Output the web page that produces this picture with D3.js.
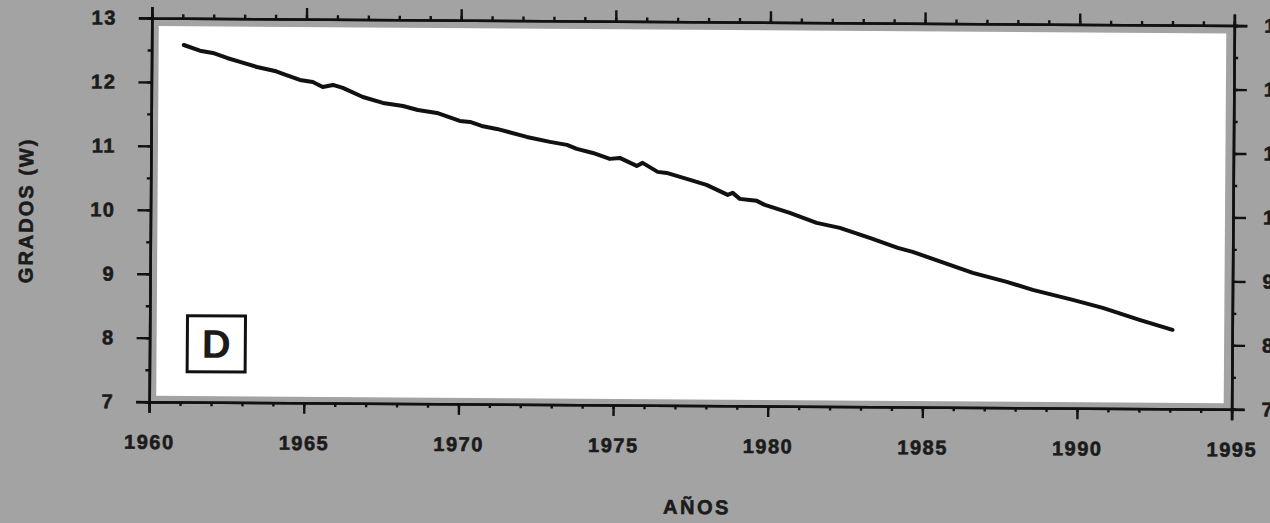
<!DOCTYPE html>
<html>
<head>
<meta charset="utf-8">
<script src="https://cdn.jsdelivr.net/npm/d3@7/dist/d3.min.js"></script>
<style>
  html, body { margin: 0; padding: 0; background: #a3a3a3; }
  svg { display: block; }
  text { font-family: "Liberation Sans", Arial, sans-serif; font-weight: bold; fill: #1b1b1b; }
</style>
</head>
<body>
<script>
// ---- data ----
const years = [1961.04, 1961.56, 1961.98, 1962.44, 1962.86, 1963.41, 1963.99, 1964.25, 1964.80, 1965.22,
  1965.54, 1965.87, 1966.19, 1966.84, 1967.49, 1968.14, 1968.62, 1969.24, 1969.98, 1970.31,
  1970.69, 1971.18, 1972.15, 1972.90, 1973.45, 1973.77, 1974.29, 1974.84, 1975.16, 1975.71,
  1975.90, 1976.39, 1976.68, 1977.33, 1977.97, 1978.66, 1978.82, 1979.05, 1979.37, 1979.60,
  1979.86, 1980.67, 1981.54, 1982.29, 1983.26, 1984.17, 1984.65, 1985.30, 1986.60, 1987.70,
  1988.54, 1989.84, 1990.81, 1992.00, 1993.07];
const grados = [12.581, 12.494, 12.460, 12.383, 12.322, 12.245, 12.185, 12.139, 12.047, 12.017,
  11.940, 11.973, 11.927, 11.788, 11.697, 11.652, 11.591, 11.546, 11.424, 11.409,
  11.348, 11.303, 11.181, 11.106, 11.061, 11.000, 10.938, 10.847, 10.863, 10.740,
  10.788, 10.649, 10.634, 10.543, 10.451, 10.297, 10.329, 10.236, 10.221, 10.207,
  10.145, 10.023, 9.869, 9.794, 9.641, 9.487, 9.427, 9.319, 9.105, 8.968,
  8.846, 8.694, 8.572, 8.389, 8.236];
const xTickValues = [1960, 1965, 1970, 1975, 1980, 1985, 1990, 1995];
const xMinorValues = d3.range(1960, 1996, 1);
const yTickValues = [7, 8, 9, 10, 11, 12, 13];
const yMinorValues = d3.range(7, 13.01, 0.5);
const panelLabel = "D";
const xTitle = "AÑOS";
const yTitle = "GRADOS (W)";

// ---- layout ----
const W = 1270, H = 523;
const L = 150.5, R = 1233, T = 21.75, B = 405.5;

const svg = d3.select("body").append("svg").attr("width", W).attr("height", H);
svg.append("rect").attr("width", W).attr("height", H).attr("fill", "#a3a3a3");

const g = svg.append("g").attr("transform", "rotate(0.4, 691.5, 213.7)");

const x = d3.scaleLinear().domain([1960, 1995]).range([L, R]);
const y = d3.scaleLinear().domain([7, 13]).range([B, T]);

// white plot area (inset from the axes)
g.append("rect")
  .attr("x", L + 7).attr("y", T + 8)
  .attr("width", (R - 8) - (L + 7)).attr("height", (B - 6) - (T + 8))
  .attr("fill", "#ffffff");

function styleAxis(sel) {
  sel.select(".domain").attr("stroke", "#111").attr("stroke-width", 2.6);
  sel.selectAll(".tick line").attr("stroke", "#111").attr("stroke-width", 2.4);
  sel.selectAll("text").attr("font-size", 20).attr("letter-spacing", 1.5)
     .attr("fill", "#1b1b1b").attr("stroke", "#1b1b1b").attr("stroke-width", 0.6)
     .attr("font-family", "'Liberation Sans', Arial, sans-serif")
     .attr("font-weight", "bold");
}

// minor ticks
g.append("g").attr("transform", `translate(0,${B})`)
  .call(d3.axisBottom(x).tickValues(xMinorValues).tickSize(4).tickFormat(""))
  .call(styleAxis);
g.append("g").attr("transform", `translate(0,${T})`)
  .call(d3.axisTop(x).tickValues(xMinorValues).tickSize(4).tickFormat(""))
  .call(styleAxis);
g.append("g").attr("transform", `translate(${L},0)`)
  .call(d3.axisLeft(y).tickValues(yMinorValues).tickSize(4).tickFormat(""))
  .call(styleAxis);
g.append("g").attr("transform", `translate(${R},0)`)
  .call(d3.axisRight(y).tickValues(yMinorValues).tickSize(4).tickFormat(""))
  .call(styleAxis);

// major ticks
g.append("g").attr("transform", `translate(0,${B})`)
  .call(d3.axisBottom(x).tickValues(xTickValues).tickSize(11).tickPadding(22).tickFormat(d3.format("d")))
  .call(styleAxis);
g.append("g").attr("transform", `translate(0,${T})`)
  .call(d3.axisTop(x).tickValues(xTickValues).tickSize(11).tickFormat(""))
  .call(styleAxis);
g.append("g").attr("transform", `translate(${L},0)`)
  .call(d3.axisLeft(y).tickValues(yTickValues).tickSize(13).tickPadding(22).tickFormat(d3.format("d")))
  .call(styleAxis);
g.append("g").attr("transform", `translate(${R},0)`)
  .call(d3.axisRight(y).tickValues(yTickValues).tickSize(13).tickPadding(17).tickFormat(d3.format("d")))
  .call(styleAxis);

// data line
const line = d3.line().x((d, i) => x(years[i])).y((d, i) => y(grados[i]));
g.append("path")
  .datum(grados)
  .attr("d", line)
  .attr("fill", "none")
  .attr("stroke", "#111")
  .attr("stroke-width", 4)
  .attr("stroke-linejoin", "round")
  .attr("stroke-linecap", "round");

// panel label box
const bx = x(1961.22), by = y(8.35);
g.append("rect")
  .attr("x", bx).attr("y", by)
  .attr("width", 58).attr("height", 56)
  .attr("fill", "#fff").attr("stroke", "#111").attr("stroke-width", 3);
g.append("text")
  .attr("x", bx + 29).attr("y", by + 28)
  .attr("text-anchor", "middle").attr("dominant-baseline", "central")
  .attr("font-size", 40).text(panelLabel);

// axis titles
g.append("text")
  .attr("x", 699).attr("y", 514)
  .attr("text-anchor", "middle")
  .attr("font-size", 20).attr("letter-spacing", 2.5)
  .attr("stroke", "#1b1b1b").attr("stroke-width", 0.6)
  .text(xTitle);
g.append("text")
  .attr("transform", "translate(33,215) rotate(-90)")
  .attr("text-anchor", "middle")
  .attr("font-size", 20).attr("letter-spacing", 2)
  .attr("stroke", "#1b1b1b").attr("stroke-width", 0.6)
  .text(yTitle);
</script>
</body>
</html>
